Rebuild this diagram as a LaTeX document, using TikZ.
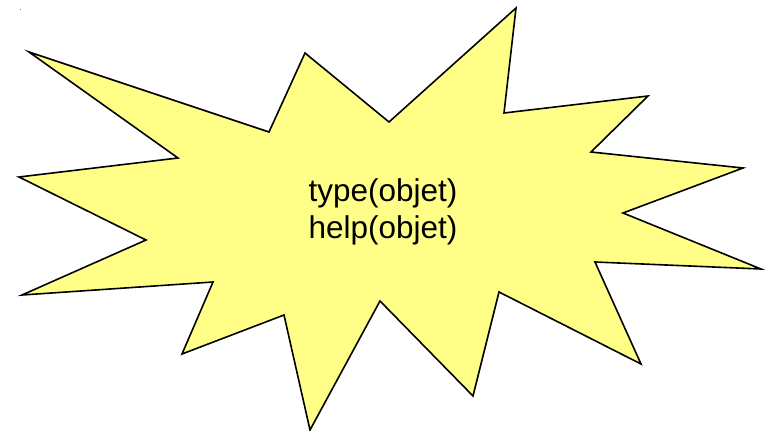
\documentclass[tikz,border=0pt]{standalone}
\usepackage{fontspec}
\setmainfont{Liberation Sans}
\definecolor{burstyellow}{HTML}{FFFF88}

\begin{document}
\begin{tikzpicture}[x=1pt,y=-1pt]
    \useasboundingbox (0,0) rectangle (769,431);
    \fill[gray] (19.5,8.5) rectangle (21,10);

    \draw[line width=1.6pt,line join=miter,fill=burstyellow]
      (29,52) -- (269,132) -- (305,53) -- (389,122) -- (516,8) -- (504,113)
      -- (648,96) -- (591,152) -- (743,168) -- (623,213) -- (761,269)
      -- (595,262) -- (641,364) -- (499,292) -- (473,396) -- (380,301)
      -- (310,430) -- (284,315) -- (182,354) -- (213,282) -- (22,295)
      -- (146,240) -- (19,177) -- (178,158) -- cycle;

    \node[align=center,font=\fontsize{31.5}{37}\selectfont] at (383,212) (calls)
      {type(objet)\\help(objet)};
  \end{tikzpicture}
\end{document}
